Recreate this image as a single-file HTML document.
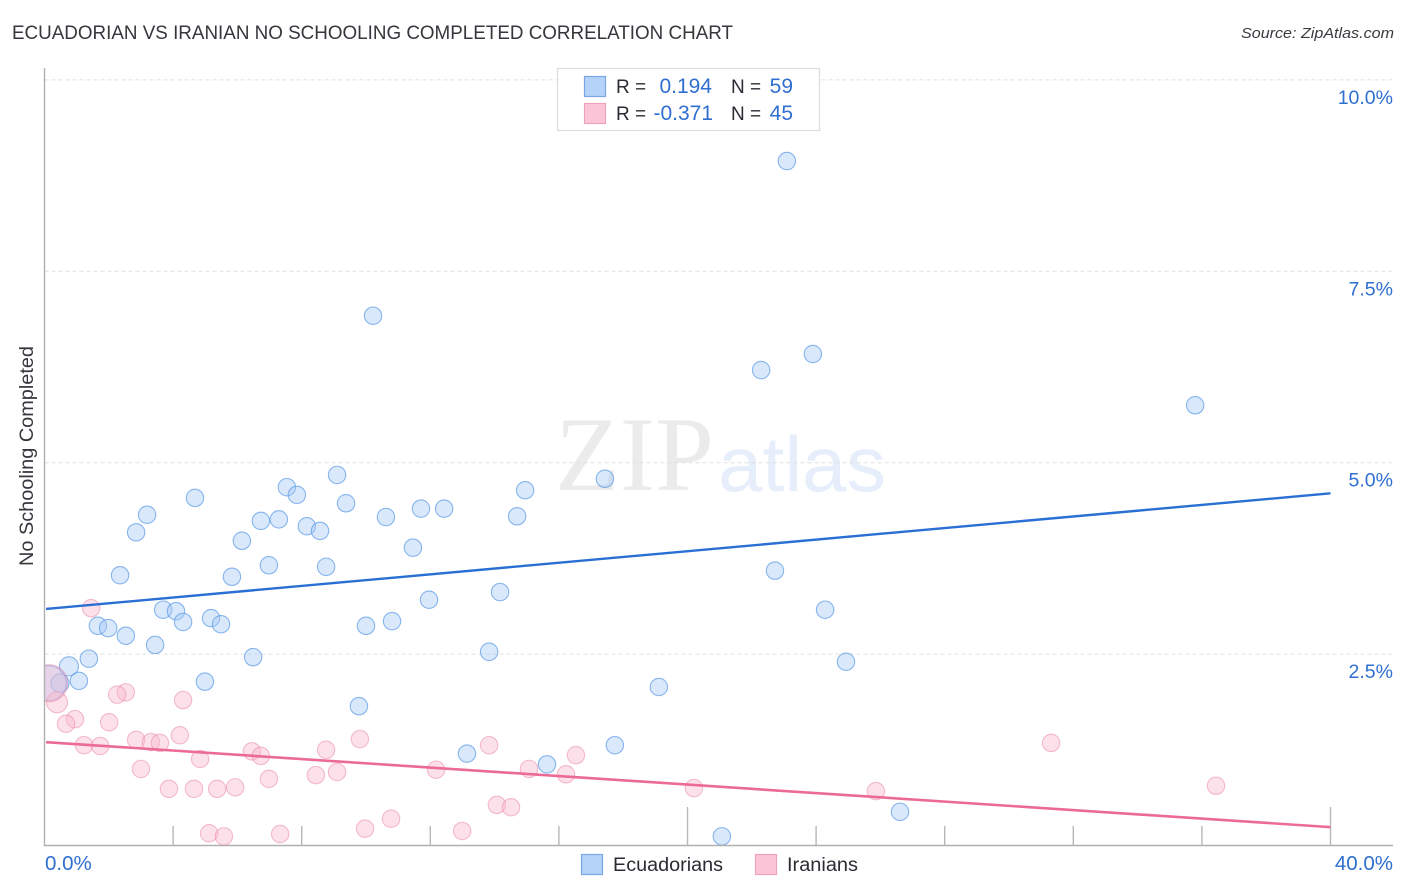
<!DOCTYPE html>
<html lang="en">
<head>
<meta charset="utf-8">
<title>Ecuadorian vs Iranian No Schooling Completed Correlation Chart</title>
<style>
html,body{margin:0;padding:0;background:#fff;width:1406px;height:892px;overflow:hidden}
svg{display:block;font-family:"Liberation Sans",sans-serif}
</style>
</head>
<body>
<svg id="chart" xmlns="http://www.w3.org/2000/svg" width="1406" height="892" viewBox="0 0 1406 892">
  <text x="12" y="39" font-size="19" fill="#36363c" textLength="721" lengthAdjust="spacingAndGlyphs">ECUADORIAN VS IRANIAN NO SCHOOLING COMPLETED CORRELATION CHART</text>
  <text x="1241" y="38" font-size="15" font-style="italic" fill="#3a3a40" textLength="153" lengthAdjust="spacingAndGlyphs">Source: ZipAtlas.com</text>
  <text x="555" y="490" font-family="'Liberation Serif',serif" font-size="106" fill="#ebebeb" textLength="159" lengthAdjust="spacingAndGlyphs">ZIP</text>
  <text x="718" y="491" font-size="78" fill="#e6eefb" textLength="168" lengthAdjust="spacingAndGlyphs">atlas</text>
  <g id="grid"></g>
  <g id="points"></g>
  <rect x="20" y="650" width="24.5" height="70" fill="#fff"/>
  <g id="axes"></g>
  <g id="trends"></g>
  <g id="labels"></g>
  <text transform="translate(33,566) rotate(-90)" font-size="19" fill="#36363c" textLength="220" lengthAdjust="spacingAndGlyphs">No Schooling Completed</text>

  <g>
    <rect x="557.5" y="68.5" width="262" height="62" fill="#fff" stroke="#dcdcdc" stroke-width="1.2"/>
    <rect x="584.5" y="76.5" width="21" height="20" fill="#b5d2f8" stroke="#7aa8e6" stroke-width="1.2"/>
    <rect x="584.5" y="103.5" width="21" height="20" fill="#fcc5d7" stroke="#eea3ba" stroke-width="1.2"/>
    <text x="616" y="93" font-size="19" fill="#2b2b33">R =</text>
    <text x="712" y="93" font-size="21" fill="#2f6fd0" text-anchor="end">0.194</text>
    <text x="731" y="93" font-size="19" fill="#2b2b33">N =</text>
    <text x="793" y="93" font-size="21" fill="#2f6fd0" text-anchor="end">59</text>
    <text x="616" y="120" font-size="19" fill="#2b2b33">R =</text>
    <text x="713" y="120" font-size="21" fill="#2f6fd0" text-anchor="end">-0.371</text>
    <text x="731" y="120" font-size="19" fill="#2b2b33">N =</text>
    <text x="793" y="120" font-size="21" fill="#2f6fd0" text-anchor="end">45</text>
  </g>

  <g>
    <rect x="581.5" y="854.5" width="21" height="20" fill="#b5d2f8" stroke="#7aa8e6" stroke-width="1.2"/>
    <text x="613" y="871" font-size="19" fill="#2b2b33" textLength="110" lengthAdjust="spacingAndGlyphs">Ecuadorians</text>
    <rect x="755.5" y="854.5" width="21" height="20" fill="#fcc5d7" stroke="#eea3ba" stroke-width="1.2"/>
    <text x="787" y="871" font-size="19" fill="#2b2b33" textLength="71" lengthAdjust="spacingAndGlyphs">Iranians</text>
  </g>
</svg>
<script>
const ecuadorianX = [23.09,10.22,23.90,22.29,35.79,9.10,7.54,7.85,4.68,17.43,14.95,9.38,11.71,12.43,3.19,14.70,10.62,6.73,7.29,8.16,8.57,2.85,6.14,11.46,6.98,8.76,22.72,2.35,5.83,14.17,11.96,24.28,3.69,4.09,5.18,4.31,5.49,10.81,10.00,1.66,1.98,2.53,3.44,1.38,6.49,13.83,24.93,0.76,1.07,4.99,0.48,19.11,9.78,13.14,15.63,17.74,26.61,21.07,0.14];
const ecuadorianY = [8.94,6.92,6.42,6.21,5.75,4.84,4.68,4.58,4.54,4.79,4.64,4.47,4.40,4.40,4.32,4.30,4.29,4.24,4.26,4.17,4.11,4.09,3.98,3.89,3.66,3.64,3.59,3.53,3.51,3.31,3.21,3.08,3.08,3.06,2.97,2.92,2.89,2.93,2.87,2.87,2.84,2.74,2.62,2.44,2.46,2.53,2.40,2.34,2.15,2.14,2.12,2.07,1.82,1.20,1.06,1.31,0.44,0.12,2.12];
const ecuadorianWeight = [1,1,1,1,1,1,1,1,1,1,1,1,1,1,1,1,1,1,1,1,1,1,1,1,1,1,1,1,1,1,1,1,1,1,1,1,1,1,1,1,1,1,1,1,1,1,1,1.2,1,1,1.1,1,1,1,1,1,1,1,4];
const iranianX = [1.45,2.53,2.26,4.31,0.39,0.95,0.67,2.01,1.23,1.73,2.85,3.31,3.59,4.21,4.84,6.45,6.73,3.00,3.87,4.65,5.37,5.93,6.98,8.44,8.76,9.10,9.81,12.18,13.83,15.07,16.22,16.53,20.20,25.86,31.31,36.44,14.07,14.51,10.78,9.97,12.99,5.12,5.58,7.33,0.14];
const iranianY = [3.10,2.00,1.97,1.90,1.87,1.65,1.59,1.61,1.31,1.30,1.38,1.35,1.34,1.44,1.13,1.23,1.17,1.00,0.74,0.74,0.74,0.76,0.87,0.92,1.25,0.96,1.39,0.99,1.31,1.00,0.93,1.18,0.75,0.71,1.34,0.78,0.53,0.50,0.35,0.22,0.19,0.16,0.12,0.15,2.12];
const iranianWeight = [1,1,1,1,1.45,1,1,1,1,1,1,1,1,1,1,1,1,1,1,1,1,1,1,1,1,1,1,1,1,1,1,1,1,1,1,1,1,1,1,1,1,1,1,1,4.5];
const trendX = [0.05, 40];
const ecuadorianTrend = [3.09, 4.60];
const iranianTrend = [1.35, 0.24];
const yTicks = [2.5, 5, 7.5, 10];
const yTickLabels = ["2.5%", "5.0%", "7.5%", "10.0%"];
const xTicks = [0, 4, 8, 12, 16, 20, 24, 28, 32, 36, 40];
const xTickLabels = ["0.0%", "40.0%"];

const NS = "http://www.w3.org/2000/svg";
const sx = v => 44.5 + v / 40 * 1286;
const sy = v => 845.5 - v * 76.56;
function make(tag, attrs, parent) {
  const el = document.createElementNS(NS, tag);
  for (const k in attrs) el.setAttribute(k, attrs[k]);
  parent.appendChild(el);
  return el;
}
const grid = document.getElementById("grid");
const axes = document.getElementById("axes");
const points = document.getElementById("points");
const trends = document.getElementById("trends");
const labels = document.getElementById("labels");

yTicks.forEach((t, i) => {
  const line = make("line", {x1: 44.5, x2: 1394, y1: sy(t), y2: sy(t), stroke: "#e0e0e0", "stroke-width": 1, "stroke-dasharray": "4 3"}, grid);
  
  
  const lab = make("text", {x: 1393, y: sy(t) + 24, "font-size": 19.5, fill: "#2f6fd0", "text-anchor": "end"}, labels);
  lab.textContent = yTickLabels[i];
  
  
});

const yAxis = make("line", {x1: 44.5, x2: 44.5, y1: 68, y2: 846, stroke: "#b0b0b0", "stroke-width": 1.4}, axes);


const xAxis = make("line", {x1: 44, x2: 1393, y1: 845.5, y2: 845.5, stroke: "#b0b0b0", "stroke-width": 1.4}, axes);



xTicks.forEach((t, i) => {
  if (i === 0) return;
  const tall = t === 20 || t === 40;
  const tick = make("line", {x1: sx(t), x2: sx(t), y1: tall ? 807 : 826, y2: 845.5, stroke: "#b8b8b8", "stroke-width": 1.4}, axes);
  
  
});

const xMin = make("text", {x: 45, y: 870, "font-size": 20.5, fill: "#2f6fd0"}, labels);
xMin.textContent = xTickLabels[0];


const xMax = make("text", {x: 1393, y: 870, "font-size": 20.5, fill: "#2f6fd0", "text-anchor": "end"}, labels);
xMax.textContent = xTickLabels[1];



const baseRadius = 8.7;
ecuadorianX.forEach((v, i) => {
  const c = make("circle", {cx: sx(v), cy: sy(ecuadorianY[i]), r: baseRadius * Math.sqrt(ecuadorianWeight[i]), fill: "#a4c8f5", "fill-opacity": 0.42, stroke: "#5a9ae6", "stroke-opacity": 0.7, "stroke-width": 1.1}, points);
  
  
});
iranianX.forEach((v, i) => {
  const c = make("circle", {cx: sx(v), cy: sy(iranianY[i]), r: baseRadius * Math.sqrt(iranianWeight[i]), fill: "#f9b8cd", "fill-opacity": 0.42, stroke: "#ea7fa2", "stroke-opacity": 0.5, "stroke-width": 1.1}, points);
  
  
});

const trendBlue = make("line", {x1: sx(trendX[0]), x2: sx(trendX[1]), y1: sy(ecuadorianTrend[0]), y2: sy(ecuadorianTrend[1]), stroke: "#2a6fd4", "stroke-width": 2.4}, trends);


const trendPink = make("line", {x1: sx(trendX[0]), x2: sx(trendX[1]), y1: sy(iranianTrend[0]), y2: sy(iranianTrend[1]), stroke: "#ec6a96", "stroke-width": 2.6}, trends);


</script>
</body>
</html>
